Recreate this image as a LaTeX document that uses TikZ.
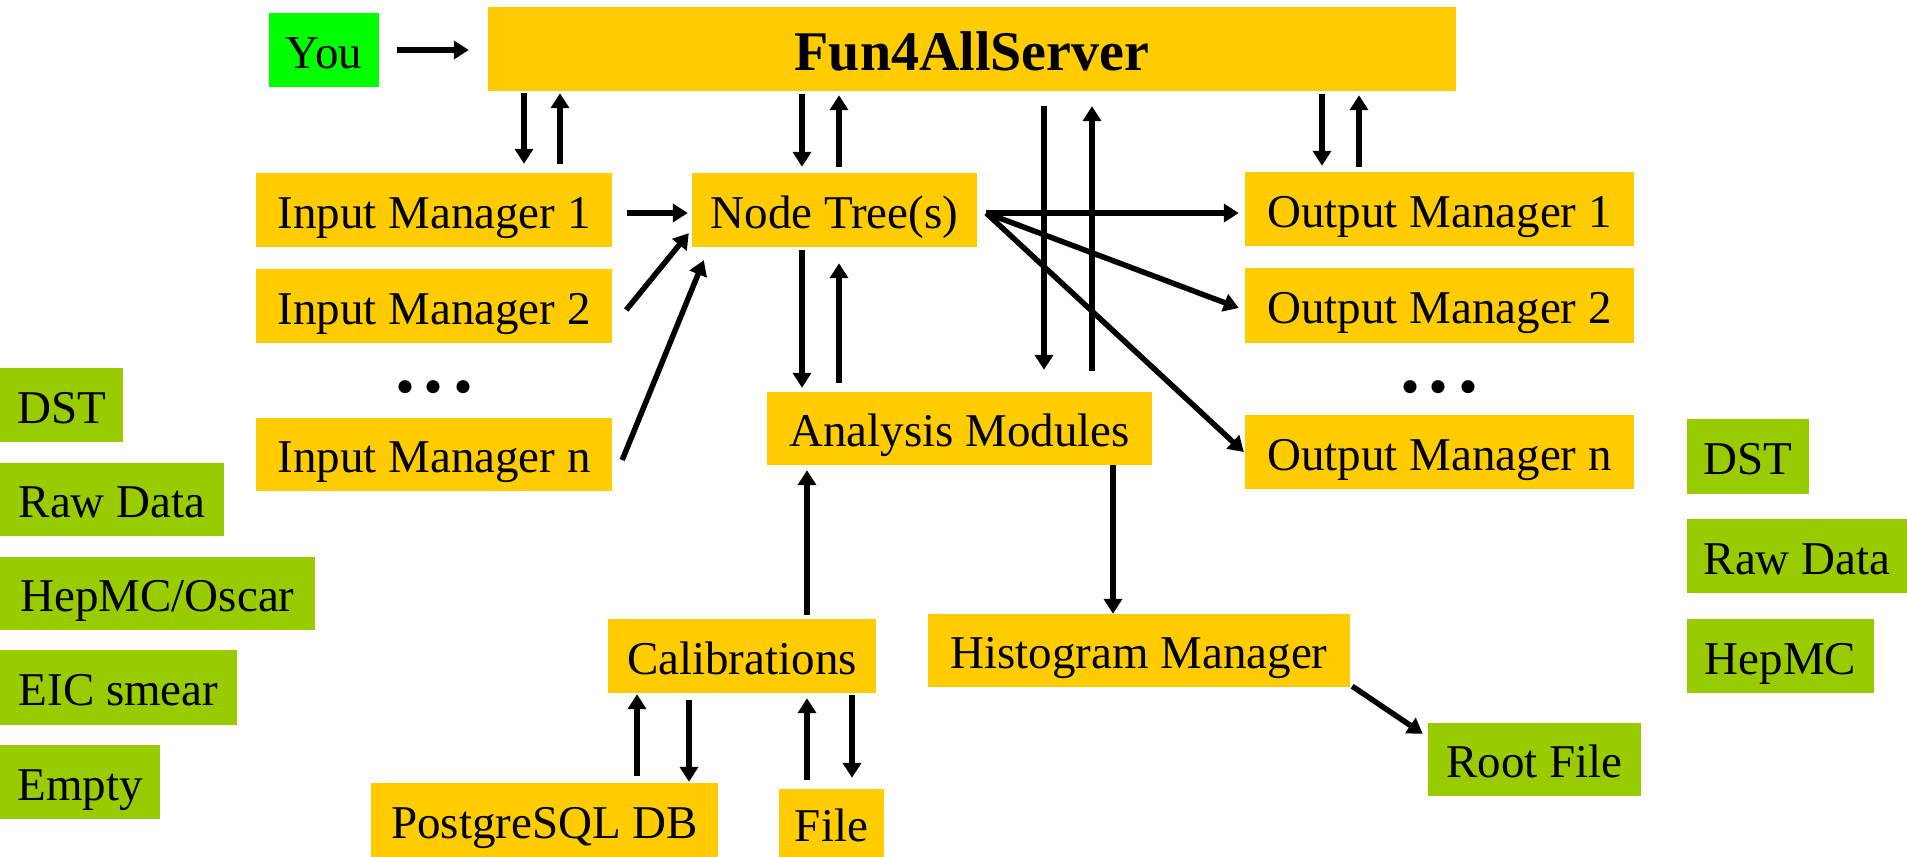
\documentclass[tikz,border=0pt]{standalone}
\usepackage{fontspec}
\setmainfont{Liberation Serif}
\usetikzlibrary{arrows.meta,calc}
\definecolor{boxyellow}{HTML}{FFCC00}
\definecolor{boxgreen}{HTML}{99CC00}
\definecolor{yougreen}{HTML}{00FF00}
\begin{document}
\begin{tikzpicture}[x=1pt,y=-1pt,
  box/.style={rectangle, inner sep=0pt, text height=36pt, text depth=0pt,
    font=\fontsize{47}{56}\selectfont},
  ybox/.style={box, fill=boxyellow},
  gbox/.style={box, fill=boxgreen},
  dots/.style={inner sep=0pt, anchor=base, font=\fontsize{80}{80}\selectfont\bfseries},
  arr/.style={line width=5.5pt, -{Triangle[length=15pt,width=18pt]}}]
\fill[white] (0,0) rectangle (1907,857);
\useasboundingbox (0,0) rectangle (1907,857);

% main boxes
\node[box, fill=yougreen, minimum width=110pt, minimum height=74pt] (you) at (324,50) {You};
\node[ybox, minimum width=968pt, minimum height=84pt, text height=43pt,
      font=\fontsize{56}{64}\selectfont\bfseries] (fun) at (972,49) {Fun4AllServer};

\node[ybox, minimum width=356pt, minimum height=74pt] (im1) at (434,210) {Input Manager 1};
\node[ybox, minimum width=356pt, minimum height=74pt] (im2) at (434,306) {Input Manager 2};
\node[dots] (idots) at (434,392) {.\kern9pt.\kern9pt.};
\node[ybox, minimum width=356pt, minimum height=73pt] (imn) at (434,454.5) {Input Manager n};

\node[ybox, minimum width=285pt, minimum height=74pt] (nt) at (834.5,210) {Node Tree(s)};
\node[ybox, minimum width=385pt, minimum height=73pt] (am) at (959.5,428.5) {Analysis Modules};

\node[ybox, minimum width=389pt, minimum height=74pt] (om1) at (1439.5,209) {Output Manager 1};
\node[ybox, minimum width=389pt, minimum height=75pt] (om2) at (1439.5,305.5) {Output Manager 2};
\node[dots] (odots) at (1439,392) {.\kern9pt.\kern9pt.};
\node[ybox, minimum width=389pt, minimum height=74pt] (omn) at (1439.5,452) {Output Manager n};

\node[ybox, minimum width=268pt, minimum height=74pt] (cal) at (742,656) {Calibrations};
\node[ybox, minimum width=347pt, minimum height=74pt] (pg) at (544.5,820) {PostgreSQL DB};
\node[ybox, minimum width=105pt, minimum height=68pt] (file) at (831.5,823) {File};
\node[ybox, minimum width=422pt, minimum height=73pt] (hm) at (1139,650.5) {Histogram Manager};
\node[gbox, minimum width=213pt, minimum height=73pt] (root) at (1534.5,759.5) {Root File};

% left green inputs
\node[gbox, minimum width=123pt, minimum height=74pt] (ldst) at (61.5,405) {DST};
\node[gbox, minimum width=224pt, minimum height=73pt] (lraw) at (112,499.5) {Raw Data};
\node[gbox, minimum width=315pt, minimum height=73pt] (lhep) at (157.5,593.5) {HepMC/Oscar};
\node[gbox, minimum width=237pt, minimum height=75pt] (leic) at (118.5,687.5) {EIC smear};
\node[gbox, minimum width=160pt, minimum height=74pt] (lempty) at (80,782) {Empty};

% right green outputs
\node[gbox, minimum width=122pt, minimum height=75pt] (rdst) at (1748,456.5) {DST};
\node[gbox, minimum width=220pt, minimum height=74pt] (rraw) at (1797,556) {Raw Data};
\node[gbox, minimum width=187pt, minimum height=74pt] (rhep) at (1780.5,656) {HepMC};

% arrow columns
\coordinate (c1) at (524,0);
\coordinate (c2) at (560,0);
\coordinate (c3) at (802,0);
\coordinate (c4) at (839,0);
\coordinate (c5) at (1322,0);
\coordinate (c6) at (1359,0);
\coordinate (c7) at (1044,0);
\coordinate (c8) at (1092,0);
\coordinate (c9) at (807,0);
\coordinate (c10) at (637,0);
\coordinate (c11) at (689,0);
\coordinate (c12) at (852,0);
\coordinate (c13) at (1113,0);

% You -> server
\draw[arr, shorten <=18pt, shorten >=19pt] (you.east) -- (you.east -| fun.west);

% server <-> input manager 1
\draw[arr, shorten <=2pt, shorten >=9pt] (c1 |- fun.south) -- (c1 |- im1.north);
\draw[arr, shorten <=9pt, shorten >=2pt] (c2 |- im1.north) -- (c2 |- fun.south);
% server <-> node tree
\draw[arr, shorten <=3pt, shorten >=6pt] (c3 |- fun.south) -- (c3 |- nt.north);
\draw[arr, shorten <=6pt, shorten >=4pt] (c4 |- nt.north) -- (c4 |- fun.south);
% server <-> output manager 1
\draw[arr, shorten <=3pt, shorten >=6pt] (c5 |- fun.south) -- (c5 |- om1.north);
\draw[arr, shorten <=5pt, shorten >=4pt] (c6 |- om1.north) -- (c6 |- fun.south);
% server <-> analysis modules
\draw[arr, shorten <=15pt, shorten >=22pt] (c7 |- fun.south) -- (c7 |- am.north);
\draw[arr, shorten <=21pt, shorten >=15pt] (c8 |- am.north) -- (c8 |- fun.south);

% input managers -> node tree
\draw[arr, shorten <=15pt, shorten >=4pt] ($(im1.east)+(0,3)$) -- ($(nt.west)+(0,3)$);
\draw[arr] ($(im2.east)+(14,4)$) -- ($(nt.south west)+(-3,-14)$);
\draw[arr] ($(imn.east)+(10,5.5)$) -- ($(nt.south west)+(12,13)$);

% node tree <-> analysis modules
\draw[arr, shorten <=3pt, shorten >=4pt] (c3 |- nt.south) -- (c3 |- am.north);
\draw[arr, shorten <=9pt, shorten >=16pt] (c4 |- am.north) -- (c4 |- nt.south);

% node tree -> output managers
\coordinate (ns) at ($(nt.east)+(9,3)$);
\draw[arr] (ns) -- ($(om1.west)+(-6,4)$);
\draw[arr] (ns) -- ($(om2.west)+(-6,2.5)$);
\draw[arr] (ns) -- ($(omn.west)+(-1,0)$);

% calibrations
\draw[arr, shorten <=4pt, shorten >=5pt] (c9 |- cal.north) -- (c9 |- am.south);
\draw[arr, shorten <=7pt, shorten >=1pt] (c10 |- pg.north) -- (c10 |- cal.south);
\draw[arr, shorten <=7pt, shorten >=1pt] (c11 |- cal.south) -- (c11 |- pg.north);
\draw[arr, shorten <=9pt, shorten >=5pt] (c9 |- file.north) -- (c9 |- cal.south);
\draw[arr, shorten <=2pt, shorten >=11pt] (c12 |- cal.south) -- (c12 |- file.north);

% analysis -> histogram -> root file
\draw[arr] (c13 |- am.south) -- (c13 |- hm.north);
\draw[arr] ($(hm.south east)+(2,-1)$) -- ($(root.north west)+(-5,11)$);
\end{tikzpicture}
\end{document}
